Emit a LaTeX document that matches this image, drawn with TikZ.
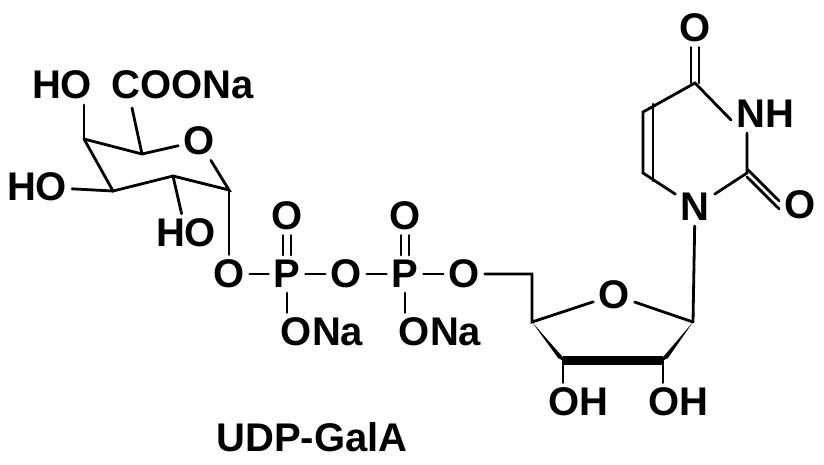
\documentclass[tikz,border=0pt]{standalone}
\usepackage{fontspec}
\setmainfont{Liberation Sans}
\tikzset{
  atom/.style={inner sep=5pt,font=\fontsize{40}{42}\selectfont\bfseries},
  bond/.style={line width=2.8pt,line cap=round},
}
\begin{document}
\begin{tikzpicture}[x=1pt,y=-1pt]
\useasboundingbox (0,0) rectangle (824,464);
% galacturonate ring
\coordinate (c1) at (229,190);
\coordinate (c2) at (173,176);
\coordinate (c3) at (113,191);
\coordinate (c4) at (84,139);
\coordinate (c5) at (142,154);
\node[atom] (o5) at (199,141) {O};
\node[atom] (ho4) at (62,85) {HO};
\node[atom] (coona) at (183,85) {COONa};
\node[atom] (ho3) at (37,187) {HO};
\node[atom] (ho2) at (186,233) {HO};
\coordinate (cc) at (132,108);
\draw[bond] (c4) -- (84,105);
\draw[bond] (c4) -- (c5) -- (o5) -- (c1) -- (c2) -- (c3) -- (c4);
\draw[bond] (c5) -- (cc);
\draw[bond] (c3) -- (ho3);
\draw[bond] (c2) -- (ho2);
% diphosphate
\node[atom] (o1) at (229,274) {O};
\node[atom] (p1) at (287,274) {P};
\node[atom] (ob) at (346,274) {O};
\node[atom] (p2) at (405,274) {P};
\node[atom] (o5r) at (464,274) {O};
\node[atom] (op1) at (287,216) {O};
\node[atom] (op2) at (405,216) {O};
\node[atom] (ona1) at (322,332) {ONa};
\node[atom] (ona2) at (440,332) {ONa};
\draw[bond] (c1) -- (o1);
\draw[bond] (o1) -- (p1) -- (ob) -- (p2) -- (o5r);
\foreach \p/\q in {p1/op1,p2/op2}{
  \draw[bond] ([xshift=-4pt]\p.north) -- ([xshift=-4pt]\q.south);
  \draw[bond] ([xshift=4pt]\p.north) -- ([xshift=4pt]\q.south);
}
\draw[bond] (p1) -- (op1.south |- ona1.north);
\draw[bond] (p2) -- (op2.south |- ona2.north);
% ribose
\coordinate (ch2) at (532,274);
\coordinate (r4) at (532,322);
\coordinate (r3) at (563,360);
\coordinate (r2) at (663,360);
\coordinate (r1) at (693,322);
\node[atom] (or) at (614,295) {O};
\node[atom] (oh3) at (578,402) {OH};
\node[atom] (oh2) at (678,402) {OH};
\draw[bond] (o5r) -- (ch2) -- (r4) -- (or) -- (r1);
\fill (r4) -- ([xshift=-5pt,yshift=2pt]r3) -- ([xshift=5pt,yshift=-3pt]r3) -- cycle;
\fill (r1) -- ([xshift=5pt,yshift=2pt]r2) -- ([xshift=-5pt,yshift=-3pt]r2) -- cycle;
\draw[line width=9pt] (r3) -- (r2);
\draw[bond] (r3) -- (r3 |- oh3.north);
\draw[bond] (r2) -- (r2 |- oh2.north);
% uracil
\node[atom] (n1) at (695,207) {N};
\coordinate (u6) at (643,173);
\coordinate (u5) at (643,112);
\coordinate (u4) at (695,83);
\node[atom] (o4) at (695,28) {O};
\node[atom,anchor=west] (n3) at (731,114) {NH};
\coordinate (n3c) at (747,114);
\coordinate (u2) at (747,173);
\node[atom] (o2) at (800,205) {O};
\draw[bond] (r1) -- (n1) -- (u6) -- (u5) -- (u4) -- ([yshift=-6pt]n3.west);
\draw[bond] (n3c |- n3.south) -- (u2) -- (n1);
\draw[bond] ([xshift=10pt,yshift=8pt]u5) -- ([xshift=10pt,yshift=-8pt]u6);
\draw[bond] ([xshift=-4pt]u4) -- ([xshift=-4pt]o4.south);
\draw[bond] ([xshift=4pt]u4) -- ([xshift=4pt]o4.south);
\draw[bond] ([yshift=-4pt]u2) -- ([yshift=-4pt]o2.west);
\draw[bond] ([yshift=4pt]u2) -- ([yshift=4pt]o2.west);
\node[atom] (title) at (312,437) {UDP-GalA};
\end{tikzpicture}
\end{document}
